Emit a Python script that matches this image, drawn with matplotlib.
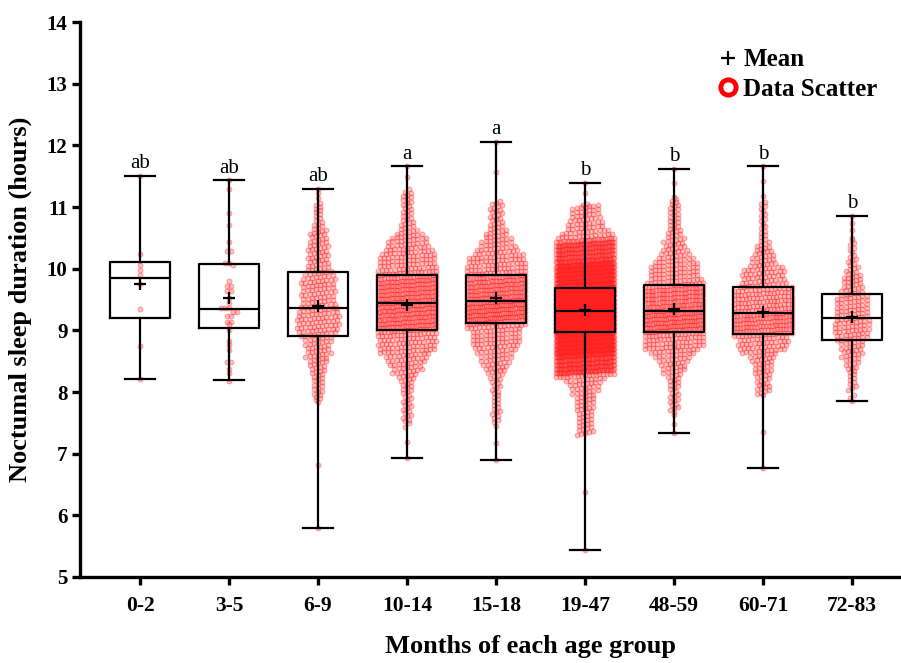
import numpy as np
import matplotlib
matplotlib.use("Agg")
import matplotlib.pyplot as plt
from matplotlib.lines import Line2D

serif = ["Liberation Serif", "DejaVu Serif"]
plt.rcParams["font.family"] = serif

# ---------------- data ----------------
groups = ["0-2", "3-5", "6-9", "10-14", "15-18", "19-47", "48-59", "60-71", "72-83"]
whis_lo = [8.21, 8.19, 5.80, 6.93, 6.90, 5.44, 7.33, 6.76, 7.85]
q1      = [9.20, 9.04, 8.91, 9.00, 9.12, 8.97, 8.97, 8.94, 8.84]
median  = [9.85, 9.35, 9.37, 9.44, 9.47, 9.32, 9.32, 9.28, 9.20]
q3      = [10.11, 10.07, 9.95, 9.89, 9.89, 9.68, 9.74, 9.70, 9.59]
whis_hi = [11.51, 11.43, 11.30, 11.66, 12.05, 11.39, 11.62, 11.66, 10.85]
means   = [9.75, 9.52, 9.40, 9.41, 9.52, 9.33, 9.35, 9.30, 9.22]
letters = ["ab", "ab", "ab", "a", "a", "b", "b", "b", "b"]

# individual values that can be read for the two small groups
vals_0_2 = [11.51, 10.24, 10.06, 9.98, 9.89, 9.75, 9.35, 8.75, 8.21]
vals_3_5 = [11.44, 11.29, 10.90, 10.71, 10.43, 10.29, 10.29, 10.09, 10.09, 10.06,
            9.80, 9.72, 9.72, 9.63, 9.63, 9.52, 9.44, 9.36, 9.36, 9.36, 9.30, 9.30,
            9.24, 9.24, 9.14, 9.14, 9.10, 9.01, 8.82, 8.76, 8.68, 8.48, 8.48, 8.38,
            8.31, 8.18]

# larger groups: approximate counts and outline of the dot clouds
n_points  = [9, 36, 290, 650, 600, 3000, 560, 420, 190]
tail_lo   = [None, None, 7.83, 7.44, 7.45, 7.30, 7.63, 7.95, 7.95]
p02       = [None, None, 7.98, 8.05, 8.10, 8.25, 8.10, 8.10, 8.10]
p10       = [None, None, 8.45, 8.55, 8.62, 8.60, 8.60, 8.60, 8.50]
p90       = [None, None, 10.47, 10.35, 10.30, 10.10, 10.20, 10.10, 9.96]
p98       = [None, None, 10.85, 10.75, 10.75, 10.50, 10.78, 10.60, 10.40]
tail_hi   = [None, None, 11.15, 11.30, 11.10, 11.05, 11.17, 11.18, 10.63]


def group_values(i):
    if i == 0:
        return np.array(vals_0_2)
    if i == 1:
        return np.array(vals_3_5)
    n = n_points[i]
    t = 2.0 / n
    ap = [0.0, t, 0.02, 0.10, 0.25, 0.50, 0.75, 0.90, 0.98, 1 - t, 1.0]
    av = [whis_lo[i], tail_lo[i], p02[i], p10[i], q1[i], median[i], q3[i],
          p90[i], p98[i], tail_hi[i], whis_hi[i]]
    p = np.linspace(0, 1, n)
    raw = np.interp(p, ap, av)
    core = raw[3:-3]
    w = max(2, min(n // 25, 40))
    pad = np.pad(core, w, mode="reflect", reflect_type="odd")
    sm = np.convolve(pad, np.ones(2 * w + 1) / (2 * w + 1), mode="same")[w:-w]
    return np.sort(np.concatenate([raw[:3], sm, raw[-3:]]))


# ---------------- figure ----------------
W, H, DPI = 901, 663, 100
fig = plt.figure(figsize=(W / DPI, H / DPI), dpi=DPI)
ax = fig.add_axes([80 / W, (H - 577) / H, (900 - 80) / W, (577 - 22) / H])

positions = np.arange(len(groups))
box_w = 0.67
row_step = 1.0 / 15.0
dot_dx = 0.047
half_w = 0.325

for i, pos in enumerate(positions):
    v = group_values(i)
    rows = np.round(v / row_step).astype(int)
    xs, ys = [], []
    for r in np.unique(rows):
        sel = v[rows == r]
        k = len(sel)
        if k == 1:
            offs = np.array([0.0])
        else:
            sp = min(dot_dx, 2 * half_w / (k - 1))
            offs = (np.arange(k) - (k - 1) / 2) * sp
        xs.extend(pos + offs)
        ys.extend(sel)
    ax.scatter(xs, ys, s=13, facecolor=(1, 0.1, 0.1, 0.28),
               edgecolor=(1, 0.15, 0.15, 0.42), linewidths=0.6, zorder=2)

stats = []
for i in range(len(groups)):
    stats.append(dict(med=median[i], q1=q1[i], q3=q3[i], whislo=whis_lo[i],
                      whishi=whis_hi[i], mean=means[i], fliers=[]))

ax.bxp(stats, positions=positions, widths=box_w, showfliers=False,
       showmeans=False, patch_artist=False,
       boxprops=dict(color="black", linewidth=1.6),
       medianprops=dict(color="black", linewidth=1.6),
       whiskerprops=dict(color="black", linewidth=1.6),
       capprops=dict(color="black", linewidth=1.6),
       capwidths=0.33, manage_ticks=False, zorder=3)

ax.plot(positions, means, linestyle="none", marker="+", markersize=9,
        markeredgewidth=1.6, color="black", zorder=4)

for i, pos in enumerate(positions):
    ax.annotate(letters[i], (pos, whis_hi[i]), xytext=(0, 2),
                textcoords="offset points", ha="center", va="bottom",
                fontsize=15, family=serif)

ax.set_xlim(-0.674, 8.54)
ax.set_ylim(5, 14)
ax.set_yticks(np.arange(5, 15, 1))
ax.set_xticks(positions)
ax.set_xticklabels(groups)

for s in ["top", "right"]:
    ax.spines[s].set_visible(False)
for s in ["left", "bottom"]:
    ax.spines[s].set_linewidth(2.4)
ax.tick_params(axis="both", width=2.4, length=6, direction="out")
ax.tick_params(axis="y", pad=3)
ax.tick_params(axis="x", pad=8)
for lab in ax.get_xticklabels():
    lab.set_fontweight("bold")
    lab.set_fontsize(15.5)
    lab.set_family(serif)
for lab in ax.get_yticklabels():
    lab.set_fontweight("bold")
    lab.set_fontsize(15)
    lab.set_family(serif)

ax.set_ylabel("Noctumal sleep duration (hours)", fontsize=19, fontweight="bold",
              family=serif)
ax.yaxis.set_label_coords(-0.058, 0.5)
ax.set_xlabel("Months of each age group", fontsize=19, fontweight="bold",
              family=serif)
ax.xaxis.set_label_coords(0.549, -0.104)

handles = [Line2D([], [], linestyle="none", marker="+", markersize=10,
                  markeredgewidth=1.6, color="black"),
           Line2D([], [], linestyle="none", marker="o", markersize=11,
                  markerfacecolor="white", markeredgecolor="red",
                  markeredgewidth=3.5)]
ax.legend(handles, ["Mean", "Data Scatter"], loc="upper right",
          bbox_to_anchor=(1.0, 0.993), frameon=False, handletextpad=0.1,
          handlelength=1.0, labelspacing=0.25,
          prop=dict(family=serif, weight="bold", size=18))

fig.savefig("out.png", dpi=DPI)
